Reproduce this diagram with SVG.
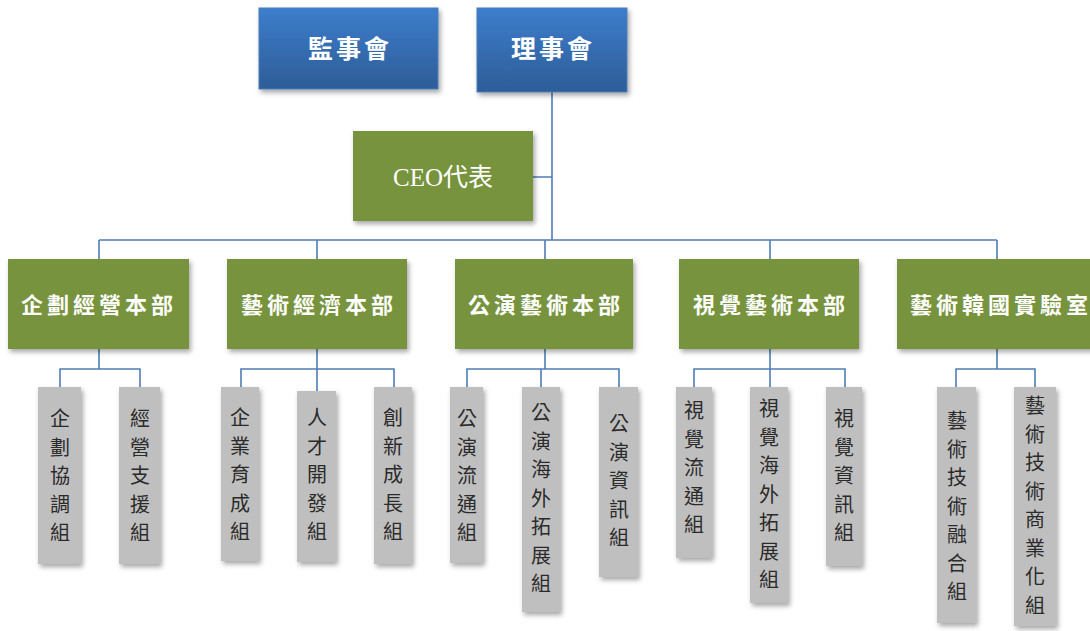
<svg xmlns="http://www.w3.org/2000/svg" width="1090" height="631" viewBox="0 0 1090 631">
<defs>
<linearGradient id="blueG" x1="0" y1="0" x2="0" y2="1">
<stop offset="0" stop-color="#3D7DCC"/>
<stop offset="1" stop-color="#2D5D97"/>
</linearGradient>
<filter id="sh" x="-20%" y="-20%" width="140%" height="140%">
<feDropShadow dx="2" dy="3" stdDeviation="2.5" flood-color="#000" flood-opacity="0.35"/>
</filter>
<style>
.blue{fill:url(#blueG);stroke:#4A7EBB;stroke-width:1;filter:url(#sh)}
.green{fill:#77933C;filter:url(#sh)}
.gray{fill:#BFBFBF;filter:url(#sh)}
.ln{fill:none;stroke:#4F7DB5;stroke-width:1.6}
.tw{fill:#FFFFFF;font-family:"Liberation Serif","Noto Sans CJK TC",serif;font-weight:bold;text-anchor:middle}
.tn{fill:#FFFFFF;font-family:"Liberation Serif","Noto Sans CJK TC",serif;font-weight:normal;text-anchor:middle}
.tg{fill:#2B2B2B;font-family:"Noto Sans CJK TC",sans-serif;font-size:20px;text-anchor:middle}
</style>
</defs>
<rect width="1090" height="631" fill="#FFFFFF"/>
<g id="connectors">
<path class="ln" d="M552,92 V240 M533,177 H552 M99,240 H997 M99,240 V259 M317,240 V259 M545,240 V259 M770,240 V259 M997,240 V259"/>
<path class="ln" d="M99,349 V369 M60,387 V369 H140 V387"/>
<path class="ln" d="M317,349 V369 M241,387 V369 H394 V387 M317,369 V391"/>
<path class="ln" d="M545,349 V369 M467,387 V369 H619 V387 M541,369 V387"/>
<path class="ln" d="M770,349 V369 M694,387 V369 H845 V387 M770,369 V387"/>
<path class="ln" d="M997,349 V369 M956,387 V369 H1035 V387"/>
</g>
<g id="n-jianshihui"><rect class="blue" x="259" y="8" width="179" height="81"/><text class="tw" x="350" y="58" font-size="25" letter-spacing="3">監事會</text></g>
<g id="n-lishihui"><rect class="blue" x="477" y="8" width="150" height="84"/><text class="tw" x="553" y="58" font-size="25" letter-spacing="3">理事會</text></g>
<g id="n-ceo"><rect class="green" x="353" y="131" width="180" height="90"/><text class="tn" x="443" y="186" font-size="25">CEO代表</text></g>
<g id="n-d1"><rect class="green" x="8" y="259" width="181" height="90"/><text class="tw" x="99" y="313" font-size="22" letter-spacing="4">企劃經營本部</text></g>
<g id="n-d2"><rect class="green" x="227" y="259" width="180" height="90"/><text class="tw" x="319" y="313" font-size="22" letter-spacing="4">藝術經濟本部</text></g>
<g id="n-d3"><rect class="green" x="455" y="259" width="178" height="90"/><text class="tw" x="546" y="313" font-size="22" letter-spacing="4">公演藝術本部</text></g>
<g id="n-d4"><rect class="green" x="679" y="259" width="180" height="90"/><text class="tw" x="771" y="313" font-size="22" letter-spacing="4">視覺藝術本部</text></g>
<g id="n-d5"><rect class="green" x="897" y="259" width="200" height="90"/><text class="tw" x="1001" y="313" font-size="22" letter-spacing="4">藝術韓國實驗室</text></g>
<g id="n-g1"><rect class="gray" x="38" y="387" width="43" height="177"/><text class="tg" y="426"><tspan x="60">企</tspan><tspan x="60" dy="28.5">劃</tspan><tspan x="60" dy="28.5">協</tspan><tspan x="60" dy="28.5">調</tspan><tspan x="60" dy="28.5">組</tspan></text></g>
<g id="n-g2"><rect class="gray" x="119" y="387" width="41" height="177"/><text class="tg" y="426"><tspan x="140">經</tspan><tspan x="140" dy="28.5">營</tspan><tspan x="140" dy="28.5">支</tspan><tspan x="140" dy="28.5">援</tspan><tspan x="140" dy="28.5">組</tspan></text></g>
<g id="n-g3"><rect class="gray" x="221" y="387" width="38" height="174"/><text class="tg" y="425"><tspan x="240">企</tspan><tspan x="240" dy="28.5">業</tspan><tspan x="240" dy="28.5">育</tspan><tspan x="240" dy="28.5">成</tspan><tspan x="240" dy="28.5">組</tspan></text></g>
<g id="n-g4"><rect class="gray" x="297" y="391" width="39" height="171"/><text class="tg" y="425"><tspan x="317">人</tspan><tspan x="317" dy="28.5">才</tspan><tspan x="317" dy="28.5">開</tspan><tspan x="317" dy="28.5">發</tspan><tspan x="317" dy="28.5">組</tspan></text></g>
<g id="n-g5"><rect class="gray" x="374" y="387" width="38" height="177"/><text class="tg" y="425"><tspan x="393">創</tspan><tspan x="393" dy="28.5">新</tspan><tspan x="393" dy="28.5">成</tspan><tspan x="393" dy="28.5">長</tspan><tspan x="393" dy="28.5">組</tspan></text></g>
<g id="n-g6"><rect class="gray" x="450" y="387" width="33" height="176"/><text class="tg" y="426"><tspan x="467">公</tspan><tspan x="467" dy="28.5">演</tspan><tspan x="467" dy="28.5">流</tspan><tspan x="467" dy="28.5">通</tspan><tspan x="467" dy="28.5">組</tspan></text></g>
<g id="n-g7"><rect class="gray" x="522" y="387" width="38" height="225"/><text class="tg" y="420"><tspan x="541">公</tspan><tspan x="541" dy="28.5">演</tspan><tspan x="541" dy="28.5">海</tspan><tspan x="541" dy="28.5">外</tspan><tspan x="541" dy="28.5">拓</tspan><tspan x="541" dy="28.5">展</tspan><tspan x="541" dy="28.5">組</tspan></text></g>
<g id="n-g8"><rect class="gray" x="599" y="387" width="39" height="190"/><text class="tg" y="431"><tspan x="619">公</tspan><tspan x="619" dy="28.5">演</tspan><tspan x="619" dy="28.5">資</tspan><tspan x="619" dy="28.5">訊</tspan><tspan x="619" dy="28.5">組</tspan></text></g>
<g id="n-g9"><rect class="gray" x="676" y="387" width="36" height="171"/><text class="tg" y="418"><tspan x="694">視</tspan><tspan x="694" dy="28.5">覺</tspan><tspan x="694" dy="28.5">流</tspan><tspan x="694" dy="28.5">通</tspan><tspan x="694" dy="28.5">組</tspan></text></g>
<g id="n-g10"><rect class="gray" x="750" y="387" width="38" height="216"/><text class="tg" y="416"><tspan x="769">視</tspan><tspan x="769" dy="28.5">覺</tspan><tspan x="769" dy="28.5">海</tspan><tspan x="769" dy="28.5">外</tspan><tspan x="769" dy="28.5">拓</tspan><tspan x="769" dy="28.5">展</tspan><tspan x="769" dy="28.5">組</tspan></text></g>
<g id="n-g11"><rect class="gray" x="826" y="387" width="36" height="179"/><text class="tg" y="426"><tspan x="844">視</tspan><tspan x="844" dy="28.5">覺</tspan><tspan x="844" dy="28.5">資</tspan><tspan x="844" dy="28.5">訊</tspan><tspan x="844" dy="28.5">組</tspan></text></g>
<g id="n-g12"><rect class="gray" x="937" y="387" width="39" height="236"/><text class="tg" y="428"><tspan x="957">藝</tspan><tspan x="957" dy="28.5">術</tspan><tspan x="957" dy="28.5">技</tspan><tspan x="957" dy="28.5">術</tspan><tspan x="957" dy="28.5">融</tspan><tspan x="957" dy="28.5">合</tspan><tspan x="957" dy="28.5">組</tspan></text></g>
<g id="n-g13"><rect class="gray" x="1014" y="387" width="42" height="239"/><text class="tg" y="413"><tspan x="1035">藝</tspan><tspan x="1035" dy="28.5">術</tspan><tspan x="1035" dy="28.5">技</tspan><tspan x="1035" dy="28.5">術</tspan><tspan x="1035" dy="28.5">商</tspan><tspan x="1035" dy="28.5">業</tspan><tspan x="1035" dy="28.5">化</tspan><tspan x="1035" dy="28.5">組</tspan></text></g>
</svg>
